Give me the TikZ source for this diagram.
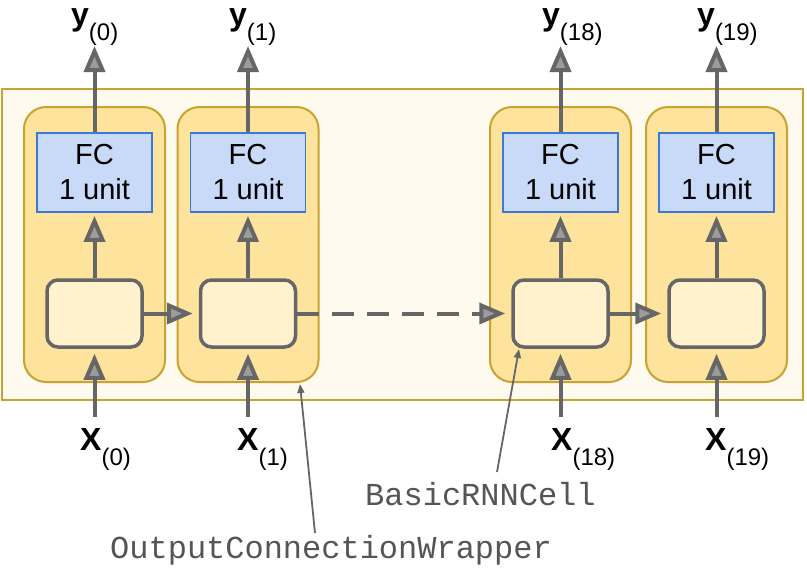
\documentclass[tikz,border=0pt]{standalone}
\usepackage{fontspec}
\setmainfont{Liberation Sans}
\setmonofont{Liberation Mono}
\usetikzlibrary{arrows.meta}
\definecolor{outerfill}{HTML}{FEFBEE}
\definecolor{gold}{HTML}{C9A332}
\definecolor{cellfill}{HTML}{FDE39C}
\definecolor{rnnfill}{HTML}{FFF2CC}
\definecolor{fcfill}{HTML}{C9DAF8}
\definecolor{fcdraw}{HTML}{3C78D8}
\definecolor{arrgray}{HTML}{666666}
\definecolor{arrin}{HTML}{9C9C9C}
\definecolor{codegray}{HTML}{555555}
\newcommand\mysub[1]{\raisebox{-15pt}{\fontsize{24}{24}\selectfont\mdseries(#1)}}
\begin{document}
\begin{tikzpicture}[x=1pt,y=-1pt,
  frame/.style={draw=gold,line width=2pt,fill=outerfill,minimum width=801pt,minimum height=311pt,inner sep=0pt},
  cellbox/.style={draw=gold,line width=2pt,fill=cellfill,rounded corners=22pt,minimum width=141pt,minimum height=275pt,inner sep=0pt},
  fcbox/.style={draw=fcdraw,line width=1.8pt,fill=fcfill,minimum width=115pt,minimum height=79pt,inner sep=0pt,align=center,font=\fontsize{29}{35}\selectfont},
  rnnbox/.style={draw=arrgray,line width=3.5pt,fill=rnnfill,rounded corners=11pt,minimum width=95pt,minimum height=67pt,inner sep=0pt},
  arr/.style={draw=arrgray,line width=4pt,-{Triangle[length=26pt,width=21pt,line width=4pt,fill=arrin]}},
  ptr/.style={draw=arrgray,line width=1.8pt,-{Triangle[length=9pt,width=7pt]}},
  lbl/.style={inner sep=0pt,anchor=base west,font=\fontsize{32}{32}\selectfont\bfseries},
  code/.style={inner sep=0pt,anchor=base west,font=\fontsize{32}{32}\selectfont\ttfamily,text=codegray}]
\fill[white] (0,0) rectangle (807,571);
\useasboundingbox (0,0) rectangle (807,571);
\node[frame] (frame) at (402.5,244.5) {};
% cells
\foreach \n/\cx in {0/94.5,1/248,18/560.5,19/716.5}{
  \node[cellbox] (c\n) at (\cx,244.5) {};
  \node[fcbox] (fc\n) at (\cx,172.5) {FC\\1 unit};
  \node[rnnbox] (r\n) at (\cx,313.5) {};
  \coordinate (yt\n) at (\cx,46);
  \coordinate (xb\n) at (\cx,417);
  \draw[arr] (fc\n.north) -- (yt\n);
  \draw[arr,shorten >=3pt] (r\n.north) -- (fc\n.south);
  \draw[arr,shorten >=5pt] (xb\n) -- (r\n.south);
}
\draw[arr,shorten >=6pt] (r0.east) -- (r1.west);
\draw[arr,shorten >=6pt,dash pattern=on 22pt off 13pt] (r1.east) -- (r18.west);
\draw[arr,shorten >=6pt] (r18.east) -- (r19.west);
% labels
\node[lbl] (y0) at (71,25) {y\mysub{0}};
\node[lbl] (y1) at (229,25) {y\mysub{1}};
\node[lbl] (y18) at (542,25) {y\mysub{18}};
\node[lbl] (y19) at (697,25) {y\mysub{19}};
\node[lbl] (x0) at (80,450) {X\mysub{0}};
\node[lbl] (x1) at (237,450) {X\mysub{1}};
\node[lbl] (x18) at (551,450) {X\mysub{18}};
\node[lbl] (x19) at (705,450) {X\mysub{19}};
% code labels
\node[code] (brc) at (365,505) {BasicRNNCell};
\node[code] (ocw) at (110,558) {OutputConnectionWrapper};
\coordinate (ocwp) at (315,533);
\coordinate (ocwt) at (300,384);
\coordinate (brcp) at (497,472);
\coordinate (brct) at (519,349);
\draw[ptr] (ocwp) -- (ocwt);
\draw[ptr] (brcp) -- (brct);
\end{tikzpicture}
\end{document}
